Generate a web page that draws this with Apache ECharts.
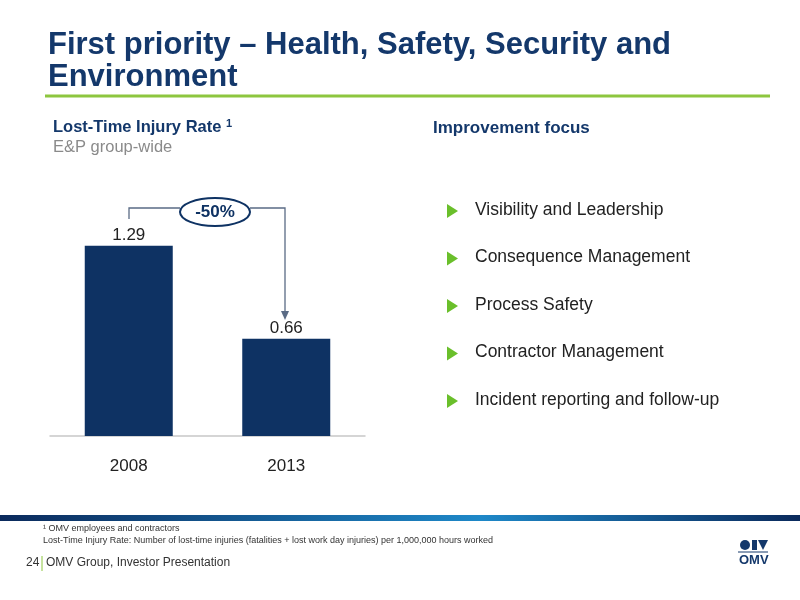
<!DOCTYPE html>
<html><head><meta charset="utf-8">
<script src="https://cdn.jsdelivr.net/npm/echarts@6/dist/echarts.min.js"></script>
<style>html,body{margin:0;padding:0;background:#fff}#c{width:800px;height:600px}</style>
</head><body><div id="c"></div>
<script>
const categories = ['2008', '2013'];
const values = [1.29, 0.66];
const bullets = ['Visibility and Leadership','Consequence Management','Process Safety','Contractor Management','Incident reporting and follow-up'];
const changeLabel = '-50%';

const navy = '#0e3263';
const chart = echarts.init(document.getElementById('c'));
const g = [
  {type:'text',left:48,top:29,style:{text:'First priority – Health, Safety, Security and\nEnvironment',font:'bold 31px Arial, "Liberation Sans"',fill:'#14386b',lineHeight:32}},
  {type:'line',shape:{x1:45,y1:96,x2:770,y2:96},style:{stroke:'#8dc63f',lineWidth:3}},
  {type:'text',left:53,top:118,style:{text:'Lost-Time Injury Rate {s|1}',rich:{s:{font:'bold 11px Arial',fill:'#14386b',verticalAlign:'top',padding:[0,0,8,0]}},font:'bold 16.5px Arial, "Liberation Sans"',fill:'#14386b'}},
  {type:'text',left:53,top:139,style:{text:'E&P group-wide',font:'16.5px Arial, "Liberation Sans"',fill:'#8a8a8a'}},
  {type:'text',left:433,top:120,style:{text:'Improvement focus',font:'bold 17px Arial, "Liberation Sans"',fill:'#14386b'}},
  {type:'polyline',shape:{points:[[129,219],[129,208],[180,208]]},style:{stroke:'#5a6b85',lineWidth:1.3,fill:null}},
  {type:'polyline',shape:{points:[[250,208],[285,208],[285,313]]},style:{stroke:'#5a6b85',lineWidth:1.3,fill:null}},
  {type:'polygon',shape:{points:[[281,311],[289,311],[285,320]]},style:{fill:'#5a6b85'}},
  {type:'ellipse',shape:{cx:215,cy:212,rx:35,ry:14},style:{fill:'#fff',stroke:navy,lineWidth:2}},
  {type:'text',x:215,y:212,style:{text:changeLabel,font:'bold 17px Arial, "Liberation Sans"',fill:navy,align:'center',verticalAlign:'middle'}},
  {type:'rect',shape:{x:0,y:515,width:800,height:6},style:{fill:new echarts.graphic.LinearGradient(0,0,1,0,[{offset:0,color:'#0b2a5c'},{offset:0.6,color:'#1e88c8'},{offset:1,color:'#0b2a5c'}])}},
  {type:'text',left:43,top:524,style:{text:'¹ OMV employees and contractors',font:'9px Arial, "Liberation Sans"',fill:'#333'}},
  {type:'text',left:43,top:536,style:{text:'Lost-Time Injury Rate: Number of lost-time injuries (fatalities + lost work day injuries) per 1,000,000 hours worked',font:'9px Arial, "Liberation Sans"',fill:'#333'}},
  {type:'text',left:26,top:557,style:{text:'24',font:'12px Arial, "Liberation Sans"',fill:'#333'}},
  {type:'line',shape:{x1:42,y1:556,x2:42,y2:571},style:{stroke:'#8dc63f',lineWidth:1}},
  {type:'text',left:46,top:557,style:{text:'OMV Group, Investor Presentation',font:'12px Arial, "Liberation Sans"',fill:'#333'}},
  {type:'text',left:739,top:554,style:{text:'OMV',font:'bold 13px Arial, "Liberation Sans"',fill:'#14386b'}},
  {type:'line',shape:{x1:738,y1:552,x2:768,y2:552},style:{stroke:'#14386b',lineWidth:1}},
  {type:'circle',shape:{cx:745,cy:545,r:5},style:{fill:'#14386b'}},
  {type:'rect',shape:{x:752,y:540,width:5,height:10},style:{fill:'#14386b'}},
  {type:'polygon',shape:{points:[[758,540],[768,540],[763,550]]},style:{fill:'#14386b'}}
];
bullets.forEach((b,i)=>{
  const y = 211 + i*47.5;
  g.push({type:'polygon',shape:{points:[[447,y-7],[447,y+7],[458,y]]},style:{fill:'#6abf2b'}});
  g.push({type:'text',left:475,top:y-10,style:{text:b,font:'17.5px Arial, "Liberation Sans"',fill:'#222'}});
});
chart.setOption({
  animation:false,
  grid:{left:50,right:435,top:141,bottom:164},
  xAxis:{type:'category',data:categories,axisTick:{show:false},axisLine:{lineStyle:{color:'#c8c8c8',width:1.5}},
    axisLabel:{margin:22,fontSize:17,color:'#222',fontFamily:'Arial'}},
  yAxis:{type:'value',min:0,max:2,show:false,splitLine:{show:false}},
  series:[{type:'bar',data:values,barWidth:88,itemStyle:{color:navy},
    label:{show:true,position:'top',distance:2,fontSize:17,color:'#222',fontFamily:'Arial',formatter:p=>p.value.toFixed(2)}}],
  graphic:g
});
</script></body></html>
